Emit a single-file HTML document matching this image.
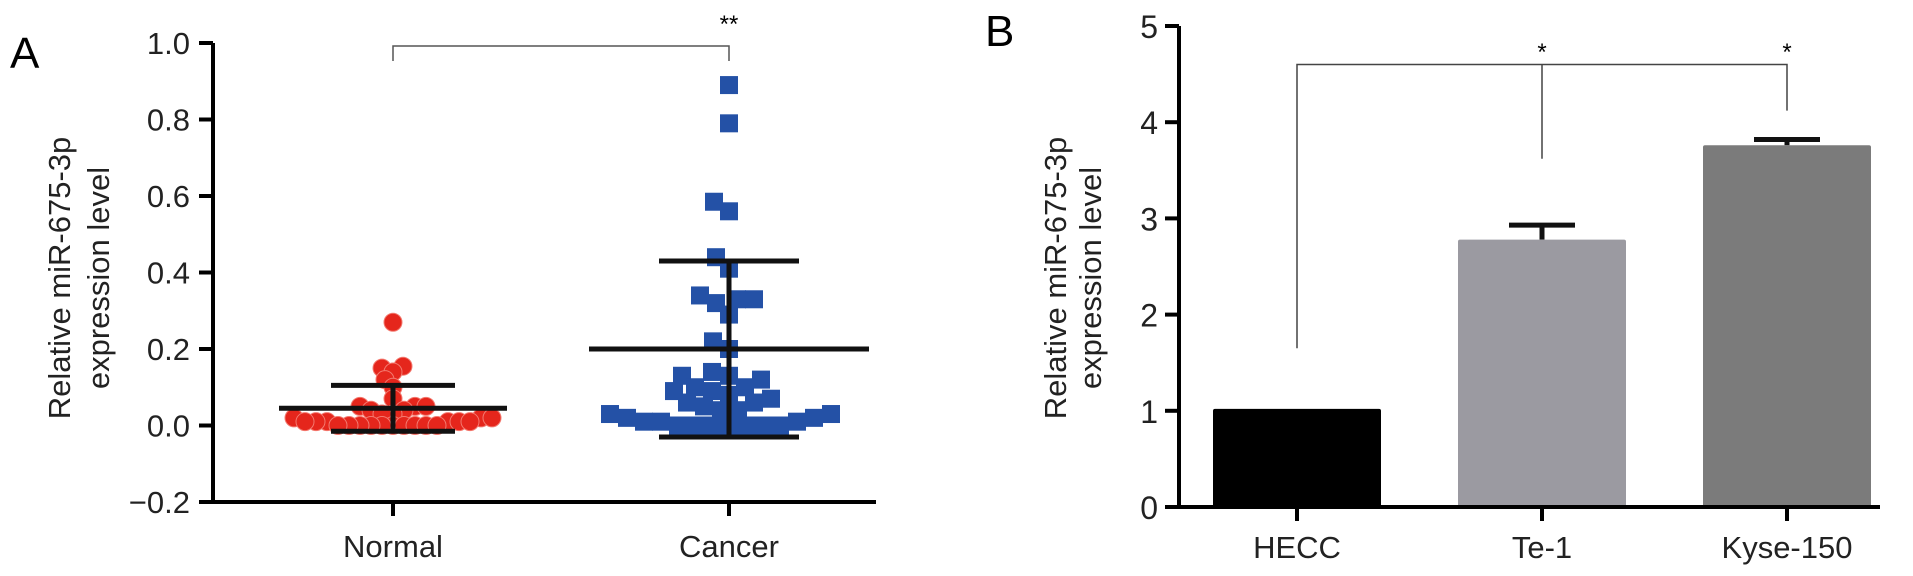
<!DOCTYPE html>
<html><head><meta charset="utf-8"><style>
html,body{margin:0;padding:0;background:#fff;}
svg{display:block;font-family:"Liberation Sans",Arial,sans-serif;}
</style></head><body>
<svg id="chart" width="1913" height="576" viewBox="0 0 1913 576" xmlns="http://www.w3.org/2000/svg">
<text x="10" y="68" font-size="44">A</text>
<text x="985" y="46" font-size="44">B</text>
<g id="pa"></g>
<g id="pb"></g>
</svg>
<script>
// Panel A data
const aCategories = ["Normal", "Cancer"];
const aTicks = [-0.2, 0.0, 0.2, 0.4, 0.6, 0.8, 1.0];
const normalValues = [0.27,0.155,0.15,0.14,0.12,0.10,0.07,0.05,0.05,0.05,0.04,0.04,0.03,0.03,0.02,0.02,0.02,0.01,0.01,0.01,0.01,0.01,0.01,0.00,0.00,0.00,0.00,0.00,0.00,0.00,0.00,0.00,0.00];
const cancerValues = [0.89,0.79,0.585,0.56,0.44,0.41,0.34,0.33,0.32,0.33,0.29,0.22,0.20,0.14,0.13,0.13,0.12,0.10,0.10,0.09,0.09,0.08,0.07,0.06,0.06,0.05,0.04,0.04,0.03,0.03,0.02,0.02,0.01,0.01,0.01,0.00,0.00,0.00,0.00,0.00,0.00,0.00];
const aMeans = [0.045, 0.20];
const aSD = [0.06, 0.23];
// Panel B data
const bCategories = ["HECC", "Te-1", "Kyse-150"];
const bValues = [1.02, 2.78, 3.76];
const bErrors = [0, 0.15, 0.06];
const bTicks = [0, 1, 2, 3, 4, 5];

const NS = "http://www.w3.org/2000/svg";
function mk(parent, tag, attrs, text) {
  const e = document.createElementNS(NS, tag);
  for (const k in attrs) e.setAttribute(k, attrs[k]);
  if (text !== undefined) e.textContent = text;
  parent.appendChild(e);
  return e;
}
// ---------- Panel A ----------
const pa = document.getElementById('pa');
const ayA = v => 425.5 - v * 382.5;
const axA = i => [393, 729][i];
let e;
aTicks.forEach(t => {
  e = mk(pa, 'line', {x1: 199, x2: 213, y1: ayA(t), y2: ayA(t), stroke: '#000', 'stroke-width': 4});
  
  
  e = mk(pa, 'text', {x: 190, y: ayA(t) + 11, 'font-size': 31, 'text-anchor': 'end', fill: '#222'}, t < 0 ? '\u2212' + Math.abs(t).toFixed(1) : t.toFixed(1));
  
  
});
aCategories.forEach((c, i) => {
  e = mk(pa, 'line', {x1: axA(i), x2: axA(i), y1: 502, y2: 516, stroke: '#000', 'stroke-width': 4});
  
  
  e = mk(pa, 'text', {x: axA(i), y: 557, 'font-size': 31, 'text-anchor': 'middle', fill: '#222'}, c);
  
  
});
e = mk(pa, 'text', {transform: 'translate(70,278) rotate(-90)', 'font-size': 31, 'text-anchor': 'middle', fill: '#222'}, 'Relative miR-675-3p');


e = mk(pa, 'text', {transform: 'translate(109,278) rotate(-90)', 'font-size': 31, 'text-anchor': 'middle', fill: '#222'}, 'expression level');


e = mk(pa, 'path', {d: `M${axA(0)},61 V46 H${axA(1)} V61`, fill: 'none', stroke: '#555', 'stroke-width': 1.5});


e = mk(pa, 'text', {x: axA(1), y: 32, 'font-size': 24, 'text-anchor': 'middle'}, '**');



// beeswarm: place lowest values first, nearest free offset to center
function swarm(vals, dist) {
  const order = vals.map((v, i) => i).sort((a, b) => vals[a] - vals[b]);
  const placed = [];
  const offs = new Array(vals.length).fill(0);
  order.forEach(i => {
    const y = ayA(vals[i]);
    for (let d = 0; d < 400; d++) {
      const cands = d === 0 ? [0] : [-d, d];
      let found = null;
      for (const x of cands) {
        if (placed.every(p => Math.hypot(p.x - x, p.y - y) >= dist)) { found = x; break; }
      }
      if (found !== null) { offs[i] = found; placed.push({x: found, y}); break; }
    }
  });
  return offs;
}
const nOff = swarm(normalValues, 11);
normalValues.forEach((v, i) => {
  e = mk(pa, 'circle', {cx: axA(0) + nOff[i], cy: ayA(v), r: 9, fill: '#e5261c', stroke: '#f37a70', 'stroke-width': 1});
  
  
});
const cOff = swarm(cancerValues, 17);
cancerValues.forEach((v, i) => {
  e = mk(pa, 'rect', {x: axA(1) + cOff[i] - 9, y: ayA(v) - 9, width: 18, height: 18, fill: '#2451a6'});
  
  
});
const meanW = [114, 140], capW = [62, 70];
aMeans.forEach((m, i) => {
  const x = axA(i);
  e = mk(pa, 'path', {d: `M${x - meanW[i]},${ayA(m)} H${x + meanW[i]} M${x},${ayA(m + aSD[i])} V${ayA(m - aSD[i])} M${x - capW[i]},${ayA(m + aSD[i])} H${x + capW[i]} M${x - capW[i]},${ayA(m - aSD[i])} H${x + capW[i]}`, fill: 'none', stroke: '#111', 'stroke-width': 5});
  
  
});
e = mk(pa, 'path', {d: 'M213,43 V502 H876', fill: 'none', stroke: '#000', 'stroke-width': 4});


// ---------- Panel B ----------
const pb = document.getElementById('pb');
const ayB = v => 507 - v * 96.2;
const axB = i => 1297 + i * 245;
const barW = 168;
const barColors = ['#000000', '#9b9aa1', '#7b7b7b'];
bValues.forEach((v, i) => {
  const x = axB(i);
  if (bErrors[i] > 0) {
    e = mk(pb, 'path', {d: `M${x},${ayB(v)} V${ayB(v + bErrors[i])} M${x - 33},${ayB(v + bErrors[i])} H${x + 33}`, fill: 'none', stroke: '#111', 'stroke-width': 5});
    
    
  }
  e = mk(pb, 'rect', {x: x - barW / 2, y: ayB(v), width: barW, height: ayB(0) - ayB(v), fill: barColors[i], rx: 2});
  
  
});
e = mk(pb, 'path', {d: 'M1179,26 V507 H1880', fill: 'none', stroke: '#000', 'stroke-width': 4});


bTicks.forEach(t => {
  e = mk(pb, 'line', {x1: 1165, x2: 1179, y1: ayB(t), y2: ayB(t), stroke: '#000', 'stroke-width': 4});
  
  
  e = mk(pb, 'text', {x: 1158, y: ayB(t) + 12, 'font-size': 32, 'text-anchor': 'end', fill: '#222'}, String(t));
  
  
});
bCategories.forEach((c, i) => {
  e = mk(pb, 'line', {x1: axB(i), x2: axB(i), y1: 507, y2: 521, stroke: '#000', 'stroke-width': 4});
  
  
  e = mk(pb, 'text', {x: axB(i), y: 558, 'font-size': 31, 'text-anchor': 'middle', fill: '#222'}, c);
  
  
});
e = mk(pb, 'text', {transform: 'translate(1066,278) rotate(-90)', 'font-size': 31, 'text-anchor': 'middle', fill: '#222'}, 'Relative miR-675-3p');


e = mk(pb, 'text', {transform: 'translate(1101,278) rotate(-90)', 'font-size': 31, 'text-anchor': 'middle', fill: '#222'}, 'expression level');


e = mk(pb, 'path', {d: `M${axB(0)},${ayB(1.65)} V${ayB(4.6)} H${axB(2)} V${ayB(4.12)} M${axB(1)},${ayB(4.6)} V${ayB(3.62)}`, fill: 'none', stroke: '#444', 'stroke-width': 1.5});


[1, 2].forEach(i => {
  e = mk(pb, 'text', {x: axB(i), y: 60, 'font-size': 24, 'text-anchor': 'middle'}, '*');
  
  
});
</script>
</body></html>
